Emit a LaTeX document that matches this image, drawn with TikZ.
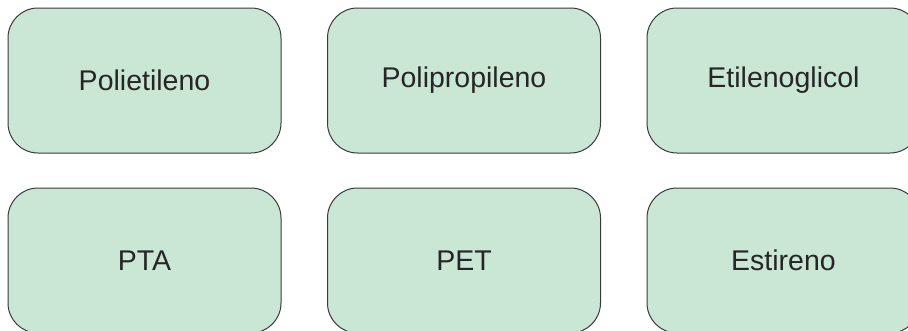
\documentclass[tikz,border=0pt]{standalone}
\usepackage{fontspec}
\setmainfont{Liberation Sans}
\definecolor{boxfill}{HTML}{CAE6D4}
\definecolor{boxline}{HTML}{3A3A3A}
\begin{document}
\begin{tikzpicture}[x=1pt,y=-1pt,
  item/.style={draw=boxline, line width=1pt, fill=boxfill, rounded corners=30pt,
    minimum width=273pt, minimum height=145pt, inner sep=0pt,
    font=\fontsize{28.5pt}{32pt}\selectfont, text=black!85}]
\useasboundingbox (0,0) rectangle (908,330);
\clip (0,0) rectangle (908,330);
\node[item] (a) at (144.5,80.5) {Polietileno};
\node[item] (b) at (464,80.5) {Polipropileno};
\node[item] (c) at (783.5,80.5) {Etilenoglicol};
\node[item] (d) at (144.5,260.5) {PTA};
\node[item] (e) at (464,260.5) {PET};
\node[item] (f) at (783.5,260.5) {Estireno};
\end{tikzpicture}
\end{document}
